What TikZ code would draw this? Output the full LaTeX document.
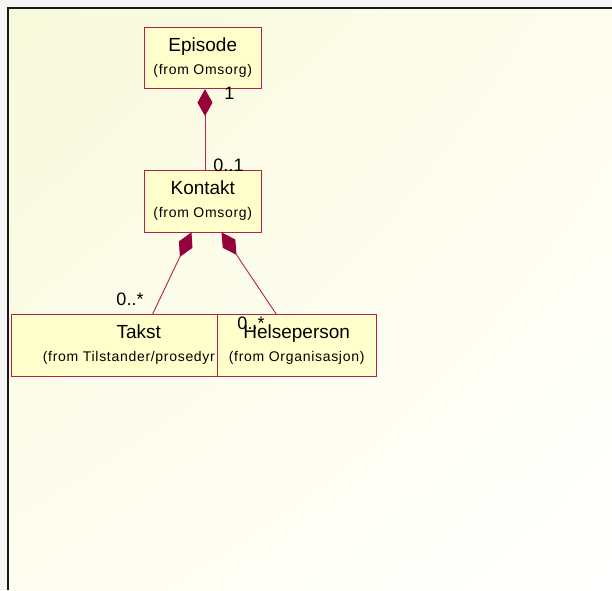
\documentclass[tikz,border=0pt]{standalone}
\usepackage{fontspec}
\setmainfont{Liberation Sans}
\newfontfamily\subfont[LetterSpace=5]{Liberation Sans}
\usetikzlibrary{arrows.meta,calc,shadings}

\definecolor{boxfill}{RGB}{255,255,204}
\definecolor{boxedge}{RGB}{180,30,80}
\definecolor{linkcol}{RGB}{175,35,85}
\definecolor{diacol}{RGB}{150,0,60}
\definecolor{outerbg}{RGB}{246,246,246}
\definecolor{bgA}{RGB}{249,249,218}
\definecolor{bgB}{RGB}{253,253,238}
\definecolor{bgC}{RGB}{253,253,240}

\begin{document}
\begin{tikzpicture}[x=1pt,y=-1pt,
  umlbox/.style={draw=boxedge, fill=boxfill, line width=0.9pt, inner sep=0pt,
    minimum width=#1, minimum height=61.5pt, anchor=north west},
  titletxt/.style={font=\fontsize{19}{22}\selectfont, inner sep=0pt, anchor=base},
  subtxt/.style={font=\subfont\fontsize{14}{16}\selectfont, inner sep=0pt, anchor=base},
  mult/.style={font=\fontsize{18}{20}\selectfont, inner sep=0pt},
  assoc/.style={draw=linkcol, line width=0.9pt},
  compo/.tip={Diamond[length=27pt, width=15pt, fill=diacol, color=diacol]},
  frameline/.style={draw=black!90, line width=1.3pt}
]
\useasboundingbox (0,0) rectangle (612,590);

% canvas and diagram frame
\fill[outerbg] (0,0) rectangle (612,590);
\shade[upper left=bgA, upper right=bgB, lower left=bgC, lower right=white]
  (8,8) rectangle (612,590);
\draw[frameline] (612,8) -- (8,8) -- (8,590);

% classes
\node[umlbox=116.7pt] (ep) at (144,26.7) {};
\node[titletxt] (eptitle) at ($(ep.north)+(0,24.5)$) {Episode};
\node[subtxt] (epsub) at ($(ep.north)+(0,48)$) {(from Omsorg)};

\node[umlbox=116.7pt] (ko) at (144,170) {};
\node[titletxt] (kotitle) at ($(ko.north)+(0,24)$) {Kontakt};
\node[subtxt] (kosub) at ($(ko.north)+(0,47)$) {(from Omsorg)};

\node[umlbox=255.3pt] (ta) at (10.7,314.3) {};
\node[titletxt] (tatitle) at (138.7,338) {Takst};
\node[subtxt, anchor=base west] (tasub) at (42.7,361.8) {(from Tilstander/prosedyr};

\node[umlbox=159pt] (he) at (216.7,314.3) {};
\node[titletxt] (hetitle) at ($(he.north)+(0,23.7)$) {Helseperson};
\node[subtxt] (hesub) at ($(he.north)+(0,47.5)$) {(from Organisasjon)};

% composition links
\coordinate (epdown) at ($(ep.south)+(2.2,0)$);
\coordinate (koup) at ($(ko.north)+(2.2,0)$);
\draw[assoc, compo-] (epdown) -- (koup);

\coordinate (kol) at ($(ko.south)+(-11.3,0)$);
\coordinate (tatop) at ($(ta.north)+(13.7,0)$);
\draw[assoc, compo-] (kol) -- (tatop);

\coordinate (kor) at ($(ko.south)+(18.7,0)$);
\coordinate (hetop) at ($(he.north)+(-20.3,0)$);
\draw[assoc, compo-] (kor) -- (hetop);

% multiplicities
\node[mult] (m1) at (229.5,93) {1};
\node[mult] (m2) at (228.5,165) {0..1};
\node[mult] (m3) at (130,299.5) {0..*};
\node[mult] (m4) at (251,323) {0..*};
\end{tikzpicture}
\end{document}
